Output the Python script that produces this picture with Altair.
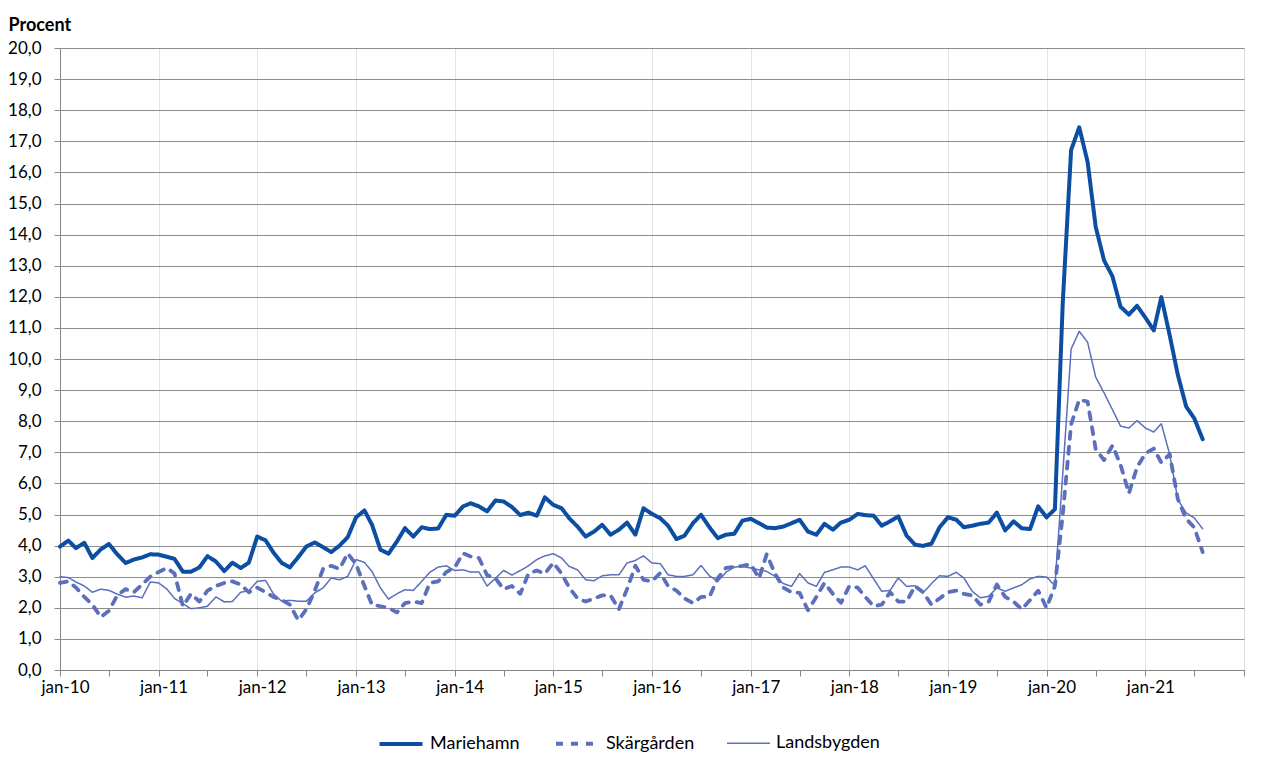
import altair as alt
import pandas as pd

# Monthly series, jan-2010 .. aug-2021 (140 months)
series_names = ["Mariehamn", "Skärgården", "Landsbygden"]

mariehamn = [
    3.97, 4.16, 3.92, 4.09, 3.60, 3.88, 4.05, 3.72, 3.44, 3.55, 3.62, 3.72,
    3.71, 3.64, 3.57, 3.16, 3.16, 3.30, 3.66, 3.49, 3.18, 3.45, 3.28, 3.45,
    4.29, 4.17, 3.78, 3.44, 3.30, 3.63, 3.97, 4.10, 3.95, 3.79, 4.00, 4.27,
    4.91, 5.13, 4.67, 3.87, 3.74, 4.13, 4.56, 4.29, 4.59, 4.53, 4.55, 4.99,
    4.96, 5.26, 5.36, 5.26, 5.10, 5.45, 5.42, 5.24, 4.98, 5.06, 4.96, 5.55,
    5.31, 5.20, 4.88, 4.61, 4.29, 4.45, 4.67, 4.35, 4.51, 4.74, 4.35, 5.20,
    5.02, 4.88, 4.64, 4.21, 4.32, 4.72, 4.99, 4.59, 4.24, 4.35, 4.38, 4.80,
    4.86, 4.72, 4.58, 4.56, 4.61, 4.72, 4.83, 4.45, 4.35, 4.70, 4.51, 4.74,
    4.83, 5.02, 4.98, 4.96, 4.64, 4.78, 4.94, 4.32, 4.03, 3.99, 4.06, 4.59,
    4.91, 4.83, 4.59, 4.64, 4.70, 4.74, 5.06, 4.49, 4.78, 4.56, 4.53, 5.26,
    4.91, 5.17, 11.80, 16.72, 17.45, 16.34, 14.25, 13.17, 12.66, 11.68, 11.43, 11.71,
    11.33, 10.92, 11.99, 10.76, 9.49, 8.47, 8.09, 7.42,
]

skargarden = [
    2.80, 2.85, 2.65, 2.35, 2.10, 1.70, 1.90, 2.40, 2.60, 2.50, 2.75, 3.00,
    3.15, 3.28, 3.10, 2.05, 2.45, 2.20, 2.55, 2.70, 2.80, 2.85, 2.75, 2.50,
    2.65, 2.50, 2.35, 2.25, 2.10, 1.60, 1.95, 2.55, 3.25, 3.35, 3.25, 3.75,
    3.40, 2.70, 2.10, 2.05, 2.00, 1.85, 2.15, 2.20, 2.15, 2.80, 2.85, 3.15,
    3.30, 3.75, 3.65, 3.60, 3.05, 2.95, 2.60, 2.70, 2.45, 3.10, 3.20, 3.10,
    3.45, 3.10, 2.65, 2.30, 2.20, 2.30, 2.40, 2.40, 1.95, 2.60, 3.35, 2.90,
    2.85, 3.12, 2.70, 2.55, 2.30, 2.15, 2.35, 2.35, 2.95, 3.28, 3.32, 3.35,
    3.40, 2.95, 3.72, 3.10, 2.65, 2.50, 2.48, 1.92, 2.35, 2.80, 2.45, 2.16,
    2.70, 2.65, 2.35, 2.05, 2.10, 2.50, 2.20, 2.20, 2.70, 2.50, 2.10, 2.30,
    2.50, 2.55, 2.45, 2.40, 2.10, 2.20, 2.75, 2.35, 2.20, 1.95, 2.25, 2.55,
    2.00, 2.70, 5.00, 7.90, 8.69, 8.63, 7.10, 6.75, 7.22, 6.60, 5.68, 6.52,
    6.96, 7.12, 6.67, 6.94, 5.50, 4.86, 4.58, 3.79,
]

landsbygden = [
    3.00, 2.97, 2.83, 2.70, 2.50, 2.60, 2.56, 2.44, 2.34, 2.38, 2.32, 2.83,
    2.80, 2.60, 2.30, 2.13, 1.97, 2.00, 2.05, 2.35, 2.19, 2.20, 2.50, 2.55,
    2.85, 2.88, 2.45, 2.21, 2.24, 2.21, 2.21, 2.48, 2.64, 2.96, 2.90, 3.01,
    3.55, 3.46, 3.17, 2.64, 2.28, 2.45, 2.58, 2.56, 2.85, 3.14, 3.31, 3.35,
    3.20, 3.22, 3.15, 3.15, 2.70, 2.95, 3.20, 3.05, 3.20, 3.35, 3.55, 3.67,
    3.74, 3.60, 3.33, 3.22, 2.90, 2.87, 3.03, 3.06, 3.06, 3.44, 3.52, 3.67,
    3.44, 3.42, 3.06, 3.01, 3.01, 3.06, 3.36, 3.03, 2.85, 3.14, 3.31, 3.33,
    3.28, 3.22, 3.17, 3.01, 2.78, 2.69, 3.10, 2.80, 2.69, 3.14, 3.22, 3.31,
    3.31, 3.22, 3.35, 2.93, 2.53, 2.56, 2.96, 2.69, 2.71, 2.48, 2.78, 3.03,
    3.01, 3.14, 2.96, 2.53, 2.32, 2.37, 2.64, 2.53, 2.64, 2.74, 2.93, 3.01,
    2.99, 2.71, 6.30, 10.32, 10.89, 10.54, 9.42, 8.91, 8.37, 7.84, 7.78, 8.02,
    7.78, 7.65, 7.92, 6.93, 5.48, 5.05, 4.89, 4.54,
]

months = [f"{2010 + k // 12}/{k % 12 + 1:02d}/01" for k in range(len(mariehamn))]

rows = []
for name, vals in zip(series_names, [mariehamn, skargarden, landsbygden]):
    for m, v in zip(months, vals):
        rows.append({"date": m, "serie": name, "value": v})
df = pd.DataFrame(rows)

FONT = "Lato"
colors = ["#0b4ea2", "#5b6fbd", "#5b6fbd"]
dashes = [[1, 0], [7, 8], [1, 0]]
widths = [4.0, 3.8, 1.5]

tick_values = [alt.DateTime(year=2010 + k // 2, month=1 + 6 * (k % 2), date=1) for k in range(25)]
y_values = list(range(0, 21))

legend = alt.Legend(
    title=None,
    orient="none",
    legendX=317,
    legendY=672,
    direction="horizontal",
    symbolType="stroke",
    symbolSize=1850,
    labelFont=FONT,
    labelFontSize=18,
    labelColor="#000000",
    labelOffset=5,
    columnPadding=28,
)

chart = alt.Chart(df).mark_line(strokeCap="round", strokeJoin="round").encode(
    x=alt.X(
        "date:T",
        scale=alt.Scale(domain=[alt.DateTime(year=2010, month=1, date=1),
                                alt.DateTime(year=2022, month=1, date=1)]),
        axis=alt.Axis(
            title=None,
            values=tick_values,
            labelExpr="month(datum.value) == 0 && year(datum.value) < 2022 ? 'jan-' + timeFormat(datum.value, '%y') : ''",
            labelFont=FONT,
            labelFontSize=17,
            labelColor="#000000",
            labelPadding=3,
            labelOffset=5,
            labelFlush=False,
            labelOverlap=False,
            tickSize=6,
            tickColor="#868686",
            domainColor="#868686",
            grid=True,
            gridColor="#e3e3e3",
            gridOpacity={"condition": {"test": "month(datum.value) == 0 && year(datum.value) < 2022", "value": 1}, "value": 0},
        ),
    ),
    y=alt.Y(
        "value:Q",
        scale=alt.Scale(domain=[0, 20], nice=False),
        axis=alt.Axis(
            title="Procent",
            titleAngle=0,
            titleAlign="left",
            titleBaseline="middle",
            titleX=-52,
            titleY=-23,
            titleFont=FONT,
            titleFontSize=18,
            titleFontWeight="bold",
            titleColor="#000000",
            values=y_values,
            labelExpr="replace(format(datum.value, '.1f'), '.', ',')",
            labelFont=FONT,
            labelFontSize=17,
            labelColor="#000000",
            labelPadding=13,
            tickSize=6,
            tickColor="#868686",
            domainColor="#868686",
            grid=True,
            gridColor="#8c8c8c",
        ),
    ),
    color=alt.Color("serie:N", scale=alt.Scale(domain=series_names, range=colors), legend=legend),
    strokeDash=alt.StrokeDash("serie:N", scale=alt.Scale(domain=series_names, range=dashes), legend=legend),
    strokeWidth=alt.StrokeWidth("serie:N", scale=alt.Scale(type="ordinal", domain=series_names, range=widths), legend=legend),
).properties(
    width=1184,
    height=622,
    autosize=alt.AutoSizeParams(type="none"),
    padding={"left": 52, "top": 40, "right": 12, "bottom": 92},
).configure_view(
    stroke="#868686",
).configure(
    background="#ffffff",
)

chart.save("out.html", embed_options={"renderer": "svg", "actions": False})
